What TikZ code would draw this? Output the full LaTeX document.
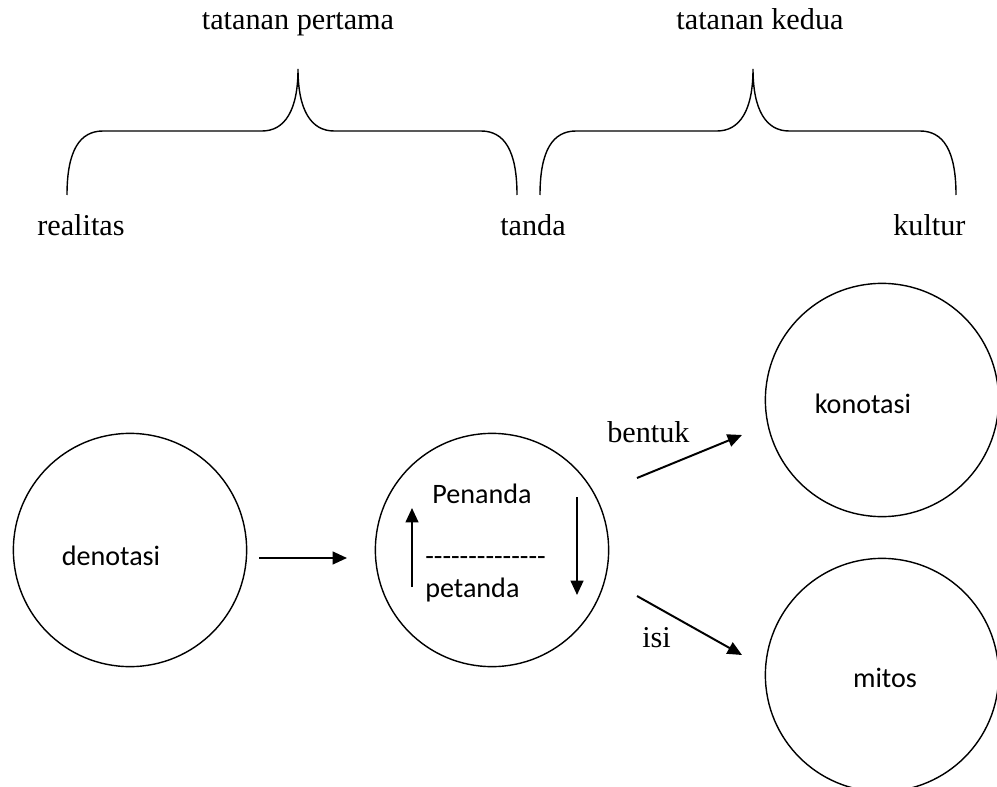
\documentclass[tikz,border=0pt]{standalone}
\usepackage{fontspec}
\setmainfont{Liberation Serif}
\newfontfamily\calibri{Carlito}
\usetikzlibrary{arrows.meta}

\begin{document}
\begin{tikzpicture}[x=0.025cm, y=-0.025cm,
    lingkaran/.style={draw, circle, line width=1pt, minimum size=5.83cm, inner sep=0pt},
    teks/.style={font=\fontsize{21.5}{26}\selectfont, inner sep=0pt},
    tekslingk/.style={font=\calibri\fontsize{20}{24}\selectfont, inner sep=0pt},
    panah/.style={line width=1.4pt, -{Triangle[length=0.36cm, width=0.32cm]}},
    kurung/.style={line width=1pt}]
    \useasboundingbox (0,0) rectangle (997,787);

    % Tatanan pertama
    \node[teks, anchor=base] (tat1) at (298,30) {tatanan pertama};
    \draw[kurung] (67,195) .. controls (67,150) and (80,131) .. (103,131) -- (262,131)
        .. controls (285,131) and (298,110) .. (298,69)
        .. controls (298,110) and (311,131) .. (334,131) -- (481,131)
        .. controls (504,131) and (517,150) .. (517,195);

    % Tatanan kedua
    \node[teks, anchor=base] (tat2) at (760,30) {tatanan kedua};
    \draw[kurung] (540,195) .. controls (540,150) and (553,131) .. (576,131) -- (717,131)
        .. controls (740,131) and (753,110) .. (753,69)
        .. controls (753,110) and (766,131) .. (789,131) -- (920,131)
        .. controls (943,131) and (956,150) .. (956,195);

    \node[teks, anchor=base west] (realitas) at (37,235) {realitas};
    \node[teks, anchor=base west] (tanda) at (500,235) {tanda};
    \node[teks, anchor=base west] (kultur) at (893,235) {kultur};

    % Lingkaran
    \node[lingkaran] (den) at (130,550) {};
    \node[lingkaran] (sign) at (492,550) {};
    \node[lingkaran] (kon) at (882,400) {};
    \node[lingkaran] (mit) at (882,675) {};

    \node[tekslingk, anchor=base] at (111,565) {denotasi};
    \node[tekslingk, anchor=base west] (penanda) at (432,503) {Penanda};
    \node[tekslingk, anchor=base west] (garis) at (425,565) {--------------};
    \node[tekslingk, anchor=base west] (petanda) at (425,597) {petanda};
    \node[tekslingk, anchor=base] at (863,413) {konotasi};
    \node[tekslingk, anchor=base] at (885,687) {mitos};

    % Panah
    \coordinate (d1) at (259,558);
    \coordinate (d2) at (347,558);
    \draw[panah] (d1) -- (d2);

    \coordinate (naik1) at (412,587);
    \coordinate (naik2) at (412,508);
    \draw[panah] (naik1) -- (naik2);
    \coordinate (turun1) at (577,497);
    \coordinate (turun2) at (577,595);
    \draw[panah] (turun1) -- (turun2);

    \coordinate (b1) at (637,478);
    \coordinate (b2) at (742,435);
    \draw[panah] (b1) -- (b2);
    \node[teks, anchor=base west] (bentuk) at (607,442) {bentuk};

    \coordinate (i1) at (637,596);
    \coordinate (i2) at (742,655);
    \draw[panah] (i1) -- (i2);
    \node[teks, anchor=base west] (isi) at (642,647) {isi};
\end{tikzpicture}
\end{document}
